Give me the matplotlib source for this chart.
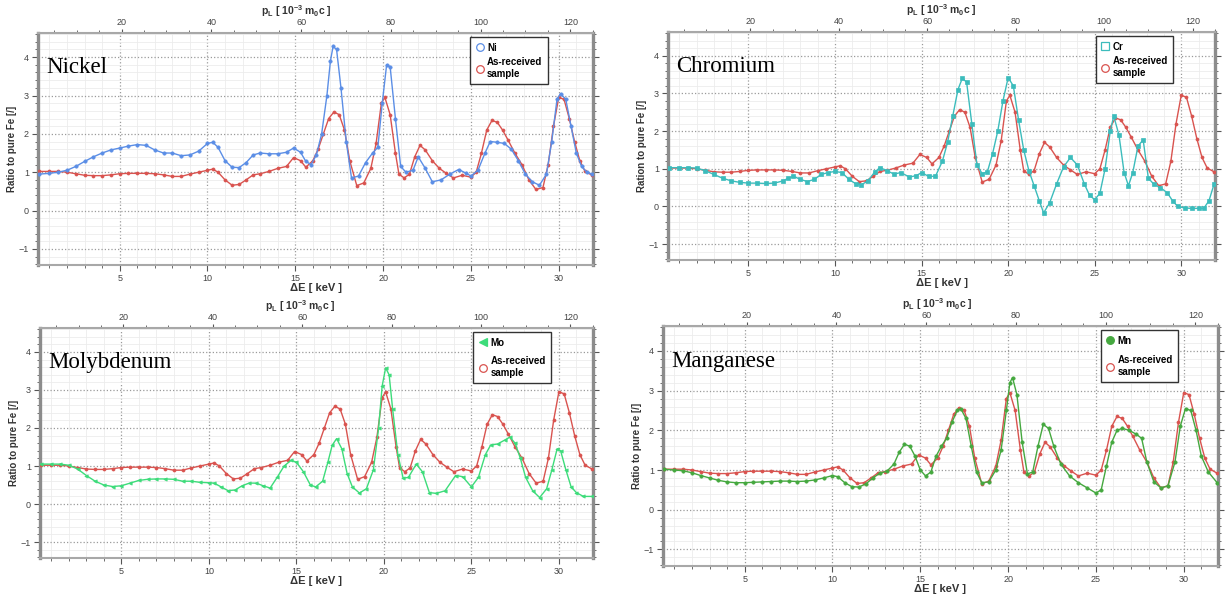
import matplotlib
matplotlib.use("Agg")
import matplotlib.pyplot as plt
from matplotlib.lines import Line2D
from matplotlib.ticker import MultipleLocator, FixedLocator

plt.rcParams['font.family'] = ['Liberation Sans', 'DejaVu Sans']
plt.rcParams['mathtext.fontset'] = 'custom'
plt.rcParams['mathtext.rm'] = 'Liberation Sans:bold'
plt.rcParams['mathtext.it'] = 'Liberation Sans:bold'
plt.rcParams['mathtext.bf'] = 'Liberation Sans:bold'

# As-received sample (same in every panel)
red_x = [0.4, 1, 1.5, 2, 2.5, 3, 3.5, 4, 4.5, 5, 5.5, 6, 6.5, 7, 7.5, 8, 8.5, 9, 9.5, 10,
         10.3, 10.6, 11, 11.4, 11.8, 12.2, 12.6, 13, 13.5, 14, 14.5, 14.9, 15.3, 15.6, 16,
         16.3, 16.6, 16.9, 17.2, 17.5, 17.8, 18.1, 18.5, 18.9, 19.3, 19.6, 19.9, 20.1, 20.4,
         20.7, 20.9, 21.2, 21.5, 21.8, 22.1, 22.4, 22.8, 23.2, 23.6, 24.0, 24.5, 25.0, 25.3,
         25.6, 25.9, 26.2, 26.5, 26.8, 27.1, 27.5, 27.9, 28.3, 28.7, 29.1, 29.4, 29.7, 30.0,
         30.3, 30.6, 30.9, 31.2, 31.5, 31.9]
red_y = [1.02, 1.02, 1.02, 1.0, 0.96, 0.92, 0.91, 0.91, 0.93, 0.96, 0.97, 0.97, 0.97, 0.96,
         0.93, 0.89, 0.89, 0.95, 1.0, 1.05, 1.08, 1.0, 0.8, 0.66, 0.68, 0.8, 0.93, 0.96, 1.02,
         1.1, 1.15, 1.38, 1.3, 1.13, 1.3, 1.6, 2.0, 2.4, 2.57, 2.5, 2.1, 1.3, 0.65, 0.72, 1.1,
         1.75, 2.8, 2.95, 2.5, 1.5, 0.95, 0.85, 0.95, 1.4, 1.7, 1.58, 1.3, 1.1, 0.97, 0.85, 0.92,
         0.87, 1.0, 1.5, 2.1, 2.35, 2.3, 2.1, 1.85, 1.5, 1.2, 0.8, 0.55, 0.6, 1.2, 2.2, 2.95,
         2.9, 2.4, 1.8, 1.3, 1.02, 0.92]

ni_x = [0.4, 1, 1.5, 2, 2.5, 3, 3.5, 4, 4.5, 5, 5.5, 6, 6.5, 7, 7.5, 8, 8.5, 9, 9.5, 10,
        10.3, 10.6, 11, 11.4, 11.8, 12.2, 12.6, 13, 13.5, 14, 14.5, 14.9, 15.3, 15.6, 15.9,
        16.2, 16.5, 16.8, 17.0, 17.15, 17.35, 17.6, 17.9, 18.2, 18.6, 19.0, 19.4, 19.7, 19.95,
        20.2, 20.4, 20.7, 21.0, 21.3, 21.7, 22.0, 22.4, 22.8, 23.3, 23.8, 24.3, 24.7, 25.0,
        25.4, 25.8, 26.1, 26.5, 26.9, 27.3, 27.7, 28.1, 28.5, 28.9, 29.3, 29.6, 29.9, 30.1,
        30.4, 30.7, 31.0, 31.3, 31.6, 31.9]
ni_y = [0.95, 0.97, 1.0, 1.05, 1.15, 1.28, 1.4, 1.5, 1.58, 1.63, 1.68, 1.72, 1.7, 1.58, 1.5,
        1.5, 1.43, 1.45, 1.55, 1.75, 1.78, 1.65, 1.3, 1.13, 1.12, 1.25, 1.45, 1.5, 1.48, 1.48,
        1.52, 1.63, 1.52, 1.28, 1.2, 1.45, 2.0, 3.0, 3.9, 4.28, 4.2, 3.2, 1.8, 0.85, 0.9, 1.25,
        1.5, 1.65, 2.8, 3.8, 3.75, 2.4, 1.15, 1.0, 1.05, 1.4, 1.1, 0.75, 0.8, 0.95, 1.07, 0.98,
        0.9, 1.05, 1.5, 1.8, 1.78, 1.75, 1.6, 1.3, 0.95, 0.75, 0.66, 0.95, 1.8, 2.9, 3.05, 2.9,
        2.2, 1.5, 1.15, 1.0, 0.95]

cr_x = [0.4, 1, 1.5, 2, 2.5, 3, 3.5, 4, 4.5, 5, 5.5, 6, 6.5, 7, 7.3, 7.6, 8.0, 8.4, 8.8, 9.2,
        9.6, 10, 10.4, 10.8, 11.2, 11.5, 11.9, 12.3, 12.6, 13.0, 13.4, 13.8, 14.3, 14.7, 15.0,
        15.4, 15.8, 16.2, 16.5, 16.8, 17.1, 17.35, 17.6, 17.9, 18.2, 18.5, 18.8, 19.1, 19.4,
        19.7, 20.0, 20.3, 20.6, 20.9, 21.2, 21.5, 21.8, 22.05, 22.4, 22.8, 23.2, 23.6, 24.0,
        24.4, 24.7, 25.0, 25.3, 25.6, 25.9, 26.1, 26.4, 26.7, 26.95, 27.2, 27.5, 27.8, 28.1,
        28.4, 28.8, 29.2, 29.5, 29.8, 30.2, 30.6, 31.0, 31.3, 31.6, 31.9]
cr_y = [1.03, 1.03, 1.03, 1.02, 0.95, 0.85, 0.75, 0.68, 0.64, 0.62, 0.62, 0.61, 0.62, 0.68,
        0.75, 0.8, 0.72, 0.66, 0.72, 0.85, 0.9, 0.93, 0.9, 0.72, 0.6, 0.57, 0.68, 0.92, 1.03,
        0.95, 0.86, 0.9, 0.78, 0.82, 0.9, 0.8, 0.8, 1.2, 1.7, 2.4, 3.1, 3.4, 3.3, 2.2, 1.1,
        0.87, 0.92, 1.4, 2.0, 2.8, 3.42, 3.2, 2.3, 1.5, 0.95, 0.55, 0.15, -0.17, 0.1, 0.6, 1.05,
        1.3, 1.1, 0.6, 0.3, 0.18, 0.35, 1.0, 2.0, 2.4, 1.9, 0.9, 0.55, 0.9, 1.6, 1.77, 0.75,
        0.6, 0.5, 0.36, 0.15, 0.0, -0.04, -0.05, -0.05, -0.05, 0.15, 0.6]

mo_x = [0.4, 1, 1.5, 2, 2.5, 3, 3.5, 4, 4.5, 5, 5.5, 6, 6.5, 7, 7.5, 8, 8.5, 9, 9.5, 10,
        10.3, 10.7, 11.1, 11.5, 11.9, 12.3, 12.7, 13.1, 13.5, 13.9, 14.3, 14.7, 15.0, 15.4,
        15.8, 16.1, 16.5, 16.8, 17.05, 17.3, 17.6, 17.9, 18.2, 18.6, 19.0, 19.4, 19.7, 19.9,
        20.1, 20.3, 20.5, 20.8, 21.1, 21.4, 21.85, 22.2, 22.6, 23.0, 23.5, 24.1, 24.5, 25.0,
        25.4, 25.8, 26.1, 26.5, 26.9, 27.2, 27.5, 27.8, 28.1, 28.5, 28.9, 29.3, 29.6, 29.9,
        30.1, 30.4, 30.7, 31.0, 31.4, 31.9]
mo_y = [1.05, 1.05, 1.05, 1.02, 0.92, 0.75, 0.6, 0.5, 0.46, 0.48, 0.55, 0.62, 0.65, 0.66,
        0.66, 0.65, 0.6, 0.6, 0.57, 0.56, 0.55, 0.45, 0.35, 0.37, 0.48, 0.55, 0.55, 0.48, 0.42,
        0.7, 1.0, 1.15, 1.1, 0.85, 0.5, 0.45, 0.6, 1.1, 1.55, 1.72, 1.45, 0.8, 0.45, 0.29, 0.4,
        0.9, 2.0, 3.1, 3.58, 3.4, 2.5, 1.3, 0.68, 0.7, 1.05, 0.85, 0.3, 0.28, 0.35, 0.75, 0.72,
        0.45, 0.7, 1.3, 1.55, 1.58, 1.68, 1.76, 1.6, 1.2, 0.7, 0.35, 0.17, 0.4, 0.9, 1.45, 1.4,
        0.9, 0.45, 0.3, 0.2, 0.2]

mn_x = [0.4, 1, 1.5, 2, 2.5, 3, 3.5, 4, 4.5, 5, 5.5, 6, 6.5, 7, 7.5, 8, 8.5, 9, 9.5, 10,
        10.3, 10.7, 11.1, 11.5, 11.9, 12.3, 12.7, 13.1, 13.5, 13.8, 14.1, 14.4, 14.7, 15.0,
        15.3, 15.6, 15.9, 16.2, 16.5, 16.8, 17.1, 17.3, 17.6, 17.9, 18.2, 18.5, 18.9, 19.3,
        19.6, 19.9, 20.1, 20.25, 20.5, 20.8, 21.1, 21.4, 21.7, 22.0, 22.3, 22.6, 23.0, 23.5,
        24.0, 24.5, 25.0, 25.3, 25.6, 25.9, 26.2, 26.5, 26.9, 27.3, 27.6, 27.9, 28.3, 28.7,
        29.1, 29.5, 29.8, 30.1, 30.4, 30.7, 31.0, 31.4, 31.9]
mn_y = [1.02, 1.0, 0.98, 0.93, 0.86, 0.8, 0.74, 0.7, 0.68, 0.68, 0.69, 0.7, 0.71, 0.72, 0.72,
        0.71, 0.72, 0.75, 0.8, 0.86, 0.83, 0.68, 0.58, 0.57, 0.65, 0.8, 0.92, 0.97, 1.15, 1.45,
        1.65, 1.6, 1.35, 1.0, 0.85, 0.95, 1.35, 1.6, 1.8, 2.2, 2.5, 2.55, 2.3, 1.6, 0.95, 0.68,
        0.7, 1.0, 1.5, 2.5, 3.2, 3.33, 2.9, 1.7, 0.9, 0.95, 1.6, 2.15, 2.05, 1.6, 1.15, 0.85,
        0.68, 0.55, 0.42, 0.5, 1.1, 1.7, 2.0, 2.05, 2.0, 1.9, 1.8, 1.2, 0.7, 0.55, 0.6, 1.2,
        2.1, 2.55, 2.5, 2.0, 1.35, 0.95, 0.68]

pl_ticks = [20, 40, 60, 80, 100, 120]
kev_ticks = [5, 10, 15, 20, 25, 30]

RED = "#d9534f"
KEV_PER_PL = 0.2555   # dE [keV] = p_L c / 2


def setup_axes(ax, name, ylabel, top_label_x):
    ax.set_xlim(0.35, 31.95)
    ax.set_ylim(-1.42, 4.63)
    ax.xaxis.set_major_locator(FixedLocator(kev_ticks))
    ax.xaxis.set_minor_locator(MultipleLocator(1))
    ax.yaxis.set_major_locator(MultipleLocator(1))
    ax.yaxis.set_minor_locator(MultipleLocator(0.2))
    ax.grid(which="major", color="#9a9a9a", ls=":", lw=0.9)
    ax.grid(which="minor", color="#ececec", ls="-", lw=0.6)
    ax.set_axisbelow(True)
    ax.tick_params(which="both", direction="out", colors="#555555", labelsize=6.5,
                   right=True, labelcolor="#444444", pad=2.5)
    ax.tick_params(which="major", length=4)
    ax.tick_params(which="minor", length=2.5)
    for s in ("left", "right"):
        ax.spines[s].set_color("#8c8c8c")
        ax.spines[s].set_linewidth(2.4)
    for s in ("top", "bottom"):
        ax.spines[s].set_color("#a8a8a8")
        ax.spines[s].set_linewidth(1.5)
    ax.set_xlabel("ΔE [ keV ]", fontsize=8, fontweight="bold", color="#333333", labelpad=0)
    ax.set_ylabel(ylabel, fontsize=7, fontweight="bold", color="#333333", labelpad=1)
    top = ax.secondary_xaxis("top", functions=(lambda e: e / KEV_PER_PL,
                                                lambda p: p * KEV_PER_PL))
    top.xaxis.set_major_locator(FixedLocator(pl_ticks))
    top.xaxis.set_minor_locator(MultipleLocator(5))
    top.tick_params(which="both", direction="out", colors="#555555", labelsize=6.5,
                    labelcolor="#444444", pad=1.2)
    top.tick_params(which="major", length=3)
    top.tick_params(which="minor", length=2)
    top.spines["top"].set_visible(False)
    top.set_xlabel(r"p$_{L}$ [ 10$^{-3}$ m$_{0}$c ]", fontsize=7.5, color="#333333",
                   fontweight="bold", labelpad=2.5)
    top.xaxis.label.set_x(top_label_x)
    ax.text(0.015, 0.85, name, transform=ax.transAxes, fontsize=16.5,
            family="Liberation Serif", va="center", ha="left")


def draw(ax, x, y, color, marker, mfc_legend, label, bx, spacing):
    ax.plot(red_x, red_y, color=RED, lw=1.0, marker="o", ms=2.2, mew=0.5, zorder=3)
    ax.plot(x, y, color=color, lw=1.0, marker=marker, ms=2.4, mew=0.5, zorder=4)
    h1 = Line2D([], [], ls="none", marker=marker, ms=5.5, color=color,
                mfc=mfc_legend, mew=0.9)
    h2 = Line2D([], [], ls="none", marker="o", ms=5.5, color=RED, mfc="none", mew=0.9)
    leg = ax.legend([h1, h2], [label, "As-received\nsample"], loc="upper left",
                    bbox_to_anchor=(bx, 0.99), frameon=True,
                    fancybox=False, edgecolor="#333333", framealpha=1,
                    handletextpad=0.3, borderpad=0.55, labelspacing=spacing,
                    handlelength=0.9, borderaxespad=0.2,
                    prop={"weight": "bold", "size": 7})
    leg.get_frame().set_linewidth(1.0)


fig = plt.figure(figsize=(12.25, 5.99), dpi=100)
W, H = 1225.0, 599.0


def axes_px(x0, y0, x1, y1):
    return fig.add_axes([x0 / W, 1 - y1 / H, (x1 - x0) / W, (y1 - y0) / H])


ax_ni = axes_px(38, 33, 593, 265)
ax_cr = axes_px(668, 32, 1215, 260)
ax_mo = axes_px(40, 328, 593, 558)
ax_mn = axes_px(663, 326, 1218, 566)

setup_axes(ax_ni, "Nickel", "Ratio to pure Fe [/]", 0.465)
setup_axes(ax_cr, "Chromium", "Ration to pure Fe [/]", 0.5)
setup_axes(ax_mo, "Molybdenum", "Ratio to pure Fe [/]", 0.47)
setup_axes(ax_mn, "Manganese", "Ratio to pure Fe [/]", 0.495)

draw(ax_ni, ni_x, ni_y, "#5b8ee6", "o", "none", "Ni", 0.775, 0.5)
draw(ax_cr, cr_x, cr_y, "#3cbcbc", "s", "none", "Cr", 0.778, 0.5)
draw(ax_mo, mo_x, mo_y, "#3ddc7a", "<", "#3ddc7a", "Mo", 0.78, 0.9)
draw(ax_mn, mn_x, mn_y, "#45a83f", "o", "#45a83f", "Mn", 0.785, 1.0)

fig.savefig("out.png", dpi=100)
